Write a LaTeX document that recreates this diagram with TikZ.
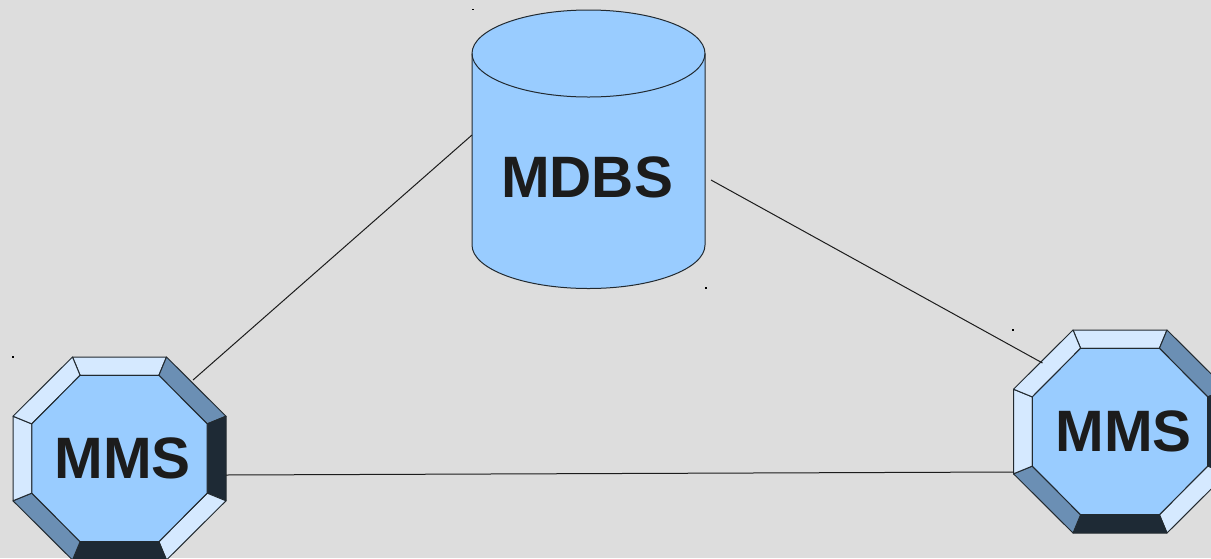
\documentclass[tikz,border=0pt]{standalone}
\usepackage{fontspec}
\setmainfont{Liberation Sans}
\definecolor{bgc}{HTML}{DDDDDD}
\definecolor{faceblue}{HTML}{99CCFF}
\definecolor{lightp}{HTML}{D5E9FF}
\definecolor{midp}{HTML}{6B8FB4}
\definecolor{darkp}{HTML}{1E2A35}
\definecolor{inkc}{HTML}{1C1C1C}
\definecolor{edgec}{HTML}{222A30}
\tikzset{
  panel/.style={draw=edgec,line width=1pt,line join=round},
  wire/.style={draw=inkc,line width=1pt},
  anchorbox/.style={draw=none,fill=none,inner sep=0pt,outer sep=0pt},
  bigtext/.style={anchor=base,inner sep=0pt,text=inkc,font=\fontsize{58.4pt}{60pt}\selectfont\bfseries},
  speck/.style={fill=black},
  octa/.pic={
    \coordinate (o1) at (-47,-101.5); \coordinate (o2) at (47,-101.5);
    \coordinate (o3) at (106.5,-42.3); \coordinate (o4) at (106.5,42.3);
    \coordinate (o5) at (47,101.5); \coordinate (o6) at (-47,101.5);
    \coordinate (o7) at (-106.5,42.3); \coordinate (o8) at (-106.5,-42.3);
    \coordinate (i1) at (-39.4,-83.2); \coordinate (i2) at (39.4,-83.2);
    \coordinate (i3) at (87.7,-34.6); \coordinate (i4) at (87.7,34.6);
    \coordinate (i5) at (39.4,83.2); \coordinate (i6) at (-39.4,83.2);
    \coordinate (i7) at (-87.7,34.6); \coordinate (i8) at (-87.7,-34.6);
    \filldraw[panel,fill=lightp] (o1)--(o2)--(i2)--(i1)--cycle;
    \filldraw[panel,fill=midp] (o2)--(o3)--(i3)--(i2)--cycle;
    \filldraw[panel,fill=darkp] (o3)--(o4)--(i4)--(i3)--cycle;
    \filldraw[panel,fill=lightp] (o4)--(o5)--(i5)--(i4)--cycle;
    \filldraw[panel,fill=darkp] (o5)--(o6)--(i6)--(i5)--cycle;
    \filldraw[panel,fill=midp] (o6)--(o7)--(i7)--(i6)--cycle;
    \filldraw[panel,fill=lightp] (o7)--(o8)--(i8)--(i7)--cycle;
    \filldraw[panel,fill=lightp] (o8)--(o1)--(i1)--(i8)--cycle;
    \filldraw[panel,fill=faceblue] (i1)--(i2)--(i3)--(i4)--(i5)--(i6)--(i7)--(i8)--cycle;
  }
}
\begin{document}
\begin{tikzpicture}[x=1pt,y=-1pt]
\useasboundingbox (0,0) rectangle (1211,558);
\clip (0,0) rectangle (1211,558);
\fill[bgc] (0,0) rectangle (1211,558);
% cylinder
\filldraw[panel,fill=faceblue] (472,53.5)
  .. controls (472,29.5) and (524.2,10) .. (588.5,10)
  .. controls (652.8,10) and (705,29.5) .. (705,53.5)
  -- (705,245)
  .. controls (705,269) and (652.8,288.5) .. (588.5,288.5)
  .. controls (524.2,288.5) and (472,269) .. (472,245) -- cycle;
\draw[panel] (472,53.5)
  .. controls (472,77.5) and (524.2,97) .. (588.5,97)
  .. controls (652.8,97) and (705,77.5) .. (705,53.5);
% octagons
\pic at (119.5,458.5) {octa};
\pic at (1120,431.5) {octa};
% named extents
\node[anchorbox,minimum width=233pt,minimum height=278pt] (mdbs) at (588.5,149) {};
\node[anchorbox,minimum width=213pt,minimum height=203pt] (mms1) at (119.5,458.5) {};
\node[anchorbox,minimum width=213pt,minimum height=203pt] (mms2) at (1120,431.5) {};
% labels
\node[bigtext] (mdbslabel) at (587,197) {MDBS};
\node[bigtext] (mms1label) at (122.5,478) {MMS};
\node[bigtext] (mms2label) at (1123.5,451.7) {MMS};
% connectors
\draw[wire] ([xshift=-33pt,yshift=-23pt]mms1.north east) -- ([yshift=14pt]mdbs.west);
\draw[wire] ([xshift=6pt,yshift=-31pt]mdbs.east) -- ([xshift=29pt,yshift=-33pt]mms2.north west);
\draw[wire] ([yshift=-16.5pt]mms1.east) -- ([yshift=-40.5pt]mms2.west);
% specks
\fill[speck] (472.3,8.8) rectangle +(1.5,1.5);
\fill[speck] (705.3,287.3) rectangle +(1.5,1.5);
\fill[speck] (1012.3,329.3) rectangle +(1.5,1.5);
\fill[speck] (12.3,356.3) rectangle +(1.5,1.5);
\end{tikzpicture}
\end{document}
